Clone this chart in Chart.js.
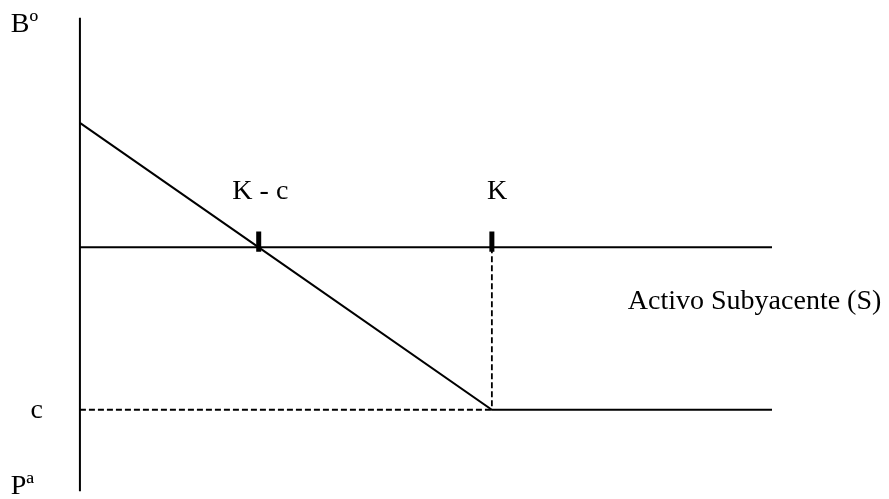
<!DOCTYPE html>
<html>
<head>
<meta charset="utf-8">
<script src="https://cdn.jsdelivr.net/npm/chart.js@4.4.1/dist/chart.umd.min.js"></script>
<style>
  html, body { margin: 0; padding: 0; background: #fff; }
  #wrap { width: 889px; height: 499px; }
</style>
</head>
<body>
<div id="wrap"><canvas id="myChart" width="889" height="499"></canvas></div>
<script>
// Werte der Grafik (Put-Option, Käuferposition)
const strikeK = 10;
const premiumC = 5.66;
const sEnd = 16.8;

// Gewinnlinie: S -> Bº/Pª
const payoffS = [0, strikeK - premiumC, strikeK, sEnd];
const payoffP = [strikeK - premiumC, 0, -premiumC, -premiumC];

// Achsen
const axisS = [0, 0];
const axisP = [8, -8.5];
const zeroS = [0, sEnd];
const zeroP = [0, 0];

// Hilfslinien (gestrichelt)
const dashHS = [0, strikeK];
const dashHP = [-premiumC, -premiumC];
const dashVS = [strikeK, strikeK];
const dashVP = [0, -premiumC];

// Markierungen K - c und K
const markS = [strikeK - premiumC, strikeK];
const markP = [0.55, -0.15];

// Texte
const labelTexts = ['Bº', 'Pª', 'c', 'K - c', 'K', 'Activo Subyacente (S)'];
const labelS = [-1.68, -1.68, -1.2, 3.7, 9.88, 13.3];
const labelP = [7.5, -8.6, -5.95, 1.7, 1.7, -2.15];

function pts(xs, ys) {
    return xs.map((x, i) => ({ x: x, y: ys[i] }));
}

function lineSet(xs, ys, width, dash) {
    return {
        data: pts(xs, ys),
        showLine: true,
        borderColor: '#000',
        borderWidth: width,
        borderDash: dash || [],
        pointRadius: 0,
        fill: false,
        tension: 0
    };
}

const datasets = [
    lineSet(axisS, axisP, 2),
    lineSet(zeroS, zeroP, 2),
    lineSet(payoffS, payoffP, 2),
    lineSet(dashHS, dashHP, 1.8, [6, 3]),
    lineSet(dashVS, dashVP, 1.8, [6, 3])
];
markS.forEach(s => datasets.push(lineSet([s, s], markP, 5)));

// Texte ueber die Skalen zeichnen
const textPlugin = {
    id: 'texte',
    afterDatasetsDraw(chart) {
        const ctx = chart.ctx;
        const xs = chart.scales.x, ys = chart.scales.y;
        ctx.save();
        ctx.fillStyle = '#000';
        ctx.font = '28px "Liberation Serif", "Times New Roman", serif';
        ctx.textBaseline = 'alphabetic';
        labelTexts.forEach((t, i) => {
            ctx.fillText(t, xs.getPixelForValue(labelS[i]), ys.getPixelForValue(labelP[i]));
        });
        ctx.restore();
    }
};

var ctx = document.getElementById('myChart').getContext('2d');
var myChart = new Chart(ctx, {
    type: 'scatter',
    data: { datasets: datasets },
    options: {
        responsive: false,
        animation: false,
        layout: { padding: 0 },
        plugins: {
            legend: { display: false },
            tooltip: { enabled: false }
        },
        scales: {
            x: { type: 'linear', display: false, min: -1.94, max: 19.64 },
            y: { type: 'linear', display: false, min: -8.77, max: 8.62 }
        }
    },
    plugins: [textPlugin]
});
</script>
</body>
</html>
